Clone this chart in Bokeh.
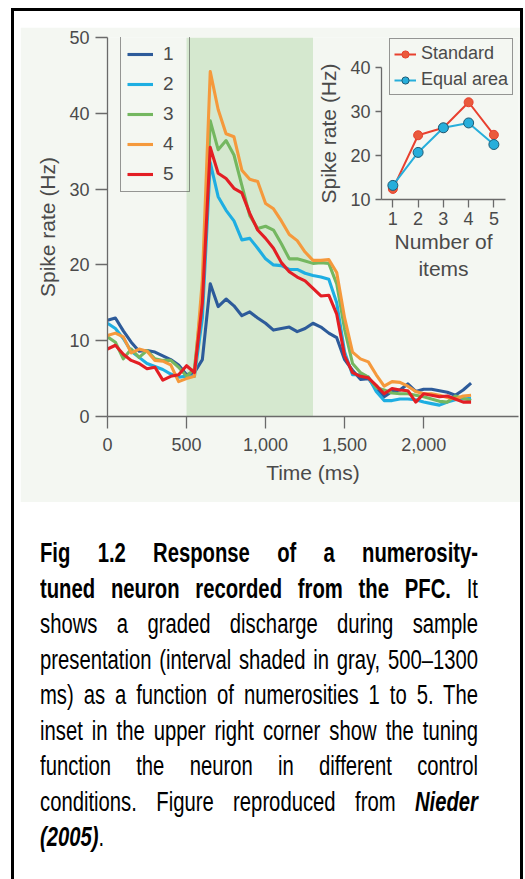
from bokeh.plotting import figure
from bokeh.models import (Range1d, BoxAnnotation, Legend, LegendItem, FixedTicker,
                          Div, GridBox)
from bokeh.layouts import column
from bokeh.embed import file_html
from bokeh.resources import INLINE

# ---- main panel: firing rate over time, one trace per numerosity ----
time_ms = list(range(0, 2301, 50))

rate_1 = [12.7, 13.0, 11.3, 9.8, 8.6, 8.7, 8.5, 8.0, 7.5, 6.8, 5.5, 5.8,
          7.5, 17.5, 14.5, 15.5, 14.6, 13.3, 13.8, 13.0, 12.3, 11.4, 11.6, 11.8,
          11.2, 11.6, 12.3, 11.8, 11.0, 10.4, 7.5, 6.1, 4.9, 5.0, 3.7, 2.6,
          3.3, 3.5, 4.3, 3.3, 3.6, 3.6, 3.4, 3.2, 2.8, 3.5, 4.4]
rate_2 = [12.3, 11.6, 10.3, 8.6, 7.8, 7.0, 6.6, 6.2, 5.6, 5.2, 5.3, 5.3,
          13.0, 33.5, 29.0, 27.2, 25.8, 23.3, 23.5, 22.2, 20.8, 20.0, 19.9, 19.4,
          19.4, 18.9, 18.6, 18.4, 18.1, 15.0, 8.5, 5.5, 5.5, 5.2, 3.3, 2.1,
          2.1, 2.3, 2.3, 2.2, 1.9, 1.7, 1.5, 1.9, 2.2, 2.3, 2.4]
rate_3 = [10.5, 9.8, 7.6, 8.9, 7.8, 8.7, 7.6, 7.4, 7.4, 6.5, 5.3, 6.3,
          16.0, 39.0, 35.2, 36.4, 34.5, 30.5, 26.5, 24.8, 25.1, 24.6, 22.8, 20.8,
          20.8, 20.5, 20.2, 20.3, 20.2, 17.5, 11.5, 7.0, 5.8, 5.2, 3.8, 3.5,
          3.1, 3.0, 3.0, 2.8, 2.6, 2.3, 2.0, 1.9, 2.7, 2.4, 2.1]
rate_4 = [10.7, 11.0, 10.5, 8.4, 8.9, 8.6, 7.4, 7.3, 6.8, 4.6, 5.0, 5.3,
          18.0, 45.5, 40.5, 37.3, 36.9, 32.5, 31.3, 31.0, 28.1, 27.4, 25.8, 24.0,
          23.2, 21.7, 20.6, 20.6, 20.7, 19.0, 13.0, 8.5, 7.6, 7.2, 5.5, 4.0,
          4.6, 4.5, 4.0, 3.3, 3.0, 3.0, 2.8, 2.5, 2.3, 2.7, 2.8]
rate_5 = [8.9, 9.4, 8.2, 7.4, 7.0, 6.3, 6.5, 4.8, 5.3, 5.5, 6.7, 5.8,
          15.0, 35.5, 32.1, 31.4, 30.1, 29.5, 26.8, 24.6, 23.5, 22.2, 20.3, 19.1,
          18.4, 17.9, 16.9, 15.9, 16.0, 13.5, 8.0, 5.8, 5.3, 5.1, 4.1, 3.0,
          3.7, 3.5, 3.4, 1.9, 3.0, 2.8, 2.6, 2.7, 2.3, 1.9, 1.9]

series_names = ["1", "2", "3", "4", "5"]
series_rates = [rate_1, rate_2, rate_3, rate_4, rate_5]
series_colors = ["#2d5b9a", "#1eaee2", "#74b760", "#f5993c", "#e31e24"]

sample_start, sample_end = 500, 1300

x_ticks = [0, 500, 1000, 1500, 2000]
x_tick_labels = ["0", "500", "1,000", "1,500", "2,000"]
y_ticks = [0, 10, 20, 30, 40, 50]

# ---- inset: tuning curves ----
inset_n = [1, 2, 3, 4, 5]
standard = [12.4, 24.6, 26.3, 32.1, 24.7]
equal_area = [13.2, 20.7, 26.3, 27.4, 22.5]
inset_y_ticks = [10, 20, 30, 40]

STD_LINE, STD_FILL = "#e8402f", "#ea5a3c"
EQ_LINE, EQ_FILL, EQ_EDGE = "#27aedb", "#27aedb", "#1d5a74"

PALE = "#f4f7f2"
SHADE = "#d5e8cf"
AXIS = "#6a6a6a"
TEXT = "#4a4a4a"
FONT = "Liberation Sans"

# both panels share the same border widths so the grid keeps their frames in place
BORDERS = dict(min_border_left=87, min_border_right=2, min_border_top=10, min_border_bottom=86)


def style_axis(ax, tick_size):
    ax.axis_line_color = AXIS
    ax.axis_line_width = 1.3
    ax.major_tick_line_color = AXIS
    ax.major_tick_line_width = 1.3
    ax.minor_tick_line_color = None
    ax.major_tick_in = 0
    ax.major_label_text_font = FONT
    ax.major_label_text_color = TEXT
    ax.major_label_text_font_size = tick_size
    ax.axis_label_text_font = FONT
    ax.axis_label_text_color = TEXT
    ax.axis_label_text_font_size = "21px"
    ax.axis_label_text_font_style = "normal"


main = figure(width=500, height=475, x_range=Range1d(0, 2600), y_range=Range1d(0, 50),
              output_backend="svg", toolbar_location=None, **BORDERS,
              background_fill_color=PALE, border_fill_color=PALE, outline_line_color=None,
              margin=0)
main.grid.visible = False
main.add_layout(BoxAnnotation(left=sample_start, right=sample_end, bottom=0, top=50,
                              fill_color=SHADE, fill_alpha=1.0, line_color=None,
                              level="underlay"))

items = []
for name, rates, color in zip(series_names, series_rates, series_colors):
    r = main.line(time_ms, rates, line_color=color, line_width=3.1, line_join="round")
    items.append(LegendItem(label=name, renderers=[r]))

style_axis(main.xaxis[0], "18px")
style_axis(main.yaxis[0], "18px")
main.xaxis.ticker = FixedTicker(ticks=x_ticks)
main.xaxis.major_label_overrides = dict(zip(x_ticks, x_tick_labels))
main.yaxis.ticker = FixedTicker(ticks=y_ticks)
main.xaxis.major_tick_out = 12
main.yaxis.major_tick_out = 12
main.xaxis.major_label_standoff = 9
main.yaxis.major_label_standoff = 6
main.xaxis.axis_label = "Time (ms)"
main.yaxis.axis_label = "Spike rate (Hz)"
main.xaxis.axis_label_standoff = 7
main.yaxis.axis_label_standoff = 7

legend = Legend(items=items, location=(13, 224), orientation="vertical",
                glyph_width=26, glyph_height=20, label_height=20, spacing=8,
                padding=6, margin=0, label_standoff=10,
                label_text_font=FONT, label_text_font_size="19px", label_text_color=TEXT,
                border_line_color="#333333", border_line_width=1,
                background_fill_alpha=0)
main.add_layout(legend)

# key for the inset, kept on the main panel so that it is not cut by the small frame;
# its renderers are hidden, they only supply the key's line and marker styles
k_std_l = main.line(inset_n, standard, line_color=STD_LINE, line_width=2, visible=False)
k_std_m = main.scatter(inset_n, standard, size=9, fill_color=STD_FILL, line_color=STD_LINE,
                       visible=False)
k_eq_l = main.line(inset_n, equal_area, line_color=EQ_LINE, line_width=2, visible=False)
k_eq_m = main.scatter(inset_n, equal_area, size=10, fill_color=EQ_FILL, line_color=EQ_EDGE,
                      line_width=1, visible=False)
inset_key = Legend(items=[LegendItem(label="Standard", renderers=[k_std_l, k_std_m]),
                          LegendItem(label="Equal area", renderers=[k_eq_l, k_eq_m])],
                   location=(282, 321), glyph_width=22, glyph_height=18, label_height=18,
                   spacing=5, padding=4, margin=0, label_standoff=5,
                   label_text_font=FONT, label_text_font_size="18px",
                   label_text_color=TEXT, border_line_color="#333333",
                   border_line_width=1, background_fill_alpha=0,
                   inactive_fill_alpha=0)
main.add_layout(inset_key)

inset = figure(width=213, height=228, x_range=Range1d(0.55, 5.46), y_range=Range1d(10, 40),
               output_backend="svg", toolbar_location=None, **BORDERS,
               background_fill_color=None, border_fill_color=None, outline_line_color=None,
               margin=(30, 0, 0, 274))
inset.grid.visible = False
inset.line(inset_n, standard, line_color=STD_LINE, line_width=2)
inset.scatter(inset_n, standard, size=9, fill_color=STD_FILL, line_color=STD_LINE)
inset.line(inset_n, equal_area, line_color=EQ_LINE, line_width=2)
inset.scatter(inset_n, equal_area, size=10, fill_color=EQ_FILL, line_color=EQ_EDGE,
              line_width=1)
style_axis(inset.xaxis[0], "18px")
style_axis(inset.yaxis[0], "18px")
inset.xaxis.ticker = FixedTicker(ticks=inset_n)
inset.yaxis.ticker = FixedTicker(ticks=inset_y_ticks)
inset.xaxis.major_tick_out = 8
inset.yaxis.major_tick_out = 6
inset.xaxis.major_label_standoff = 4
inset.yaxis.major_label_standoff = 5
inset.xaxis.axis_label = "Number of\nitems"
inset.yaxis.axis_label = "Spike rate (Hz)"
inset.xaxis.axis_label_standoff = 2
inset.yaxis.axis_label_standoff = 7

chart = GridBox(children=[(main, 0, 0), (inset, 0, 0)], margin=(16, 0, 0, 6))

# ---- caption below the chart, fully justified line by line ----
caption_lines = [
    "<b>Fig 1.2 Response of a numerosity-</b>",
    "<b>tuned neuron recorded from the PFC.</b> It",
    "shows a graded discharge during sample",
    "presentation (interval shaded in gray, 500\u20131300",
    "ms) as a function of numerosities 1 to 5. The",
    "inset in the upper right corner show the tuning",
    "function the neuron in different control",
    "conditions. Figure reproduced from <b><i>Nieder</i></b>",
]
caption_last = "<b><i>(2005)</i></b>."

scale = 0.75
rows = "".join(
    f'<div style="text-align:justify;text-align-last:justify;">{t}</div>'
    for t in caption_lines)
rows += f'<div style="text-align:left;">{caption_last}</div>'
caption_html = (
    '<div style="padding:34px 0 0 26px;">'
    f'<div style="width:{438 / scale:.1f}px;transform:scaleX({scale});transform-origin:0 0;'
    "font-family:'Liberation Sans',Arial,sans-serif;font-size:27px;line-height:35.5px;"
    f'color:#000;">{rows}</div></div>'
)
caption = Div(text=caption_html, width=506, height=377, margin=0)

page = column(chart, caption, margin=(8, 0, 0, 11),
              styles={"border-left": "3px solid #000", "border-right": "3px solid #000",
                      "border-top": "3px solid #000"})

open("out.html", "w").write(file_html(page, INLINE))
